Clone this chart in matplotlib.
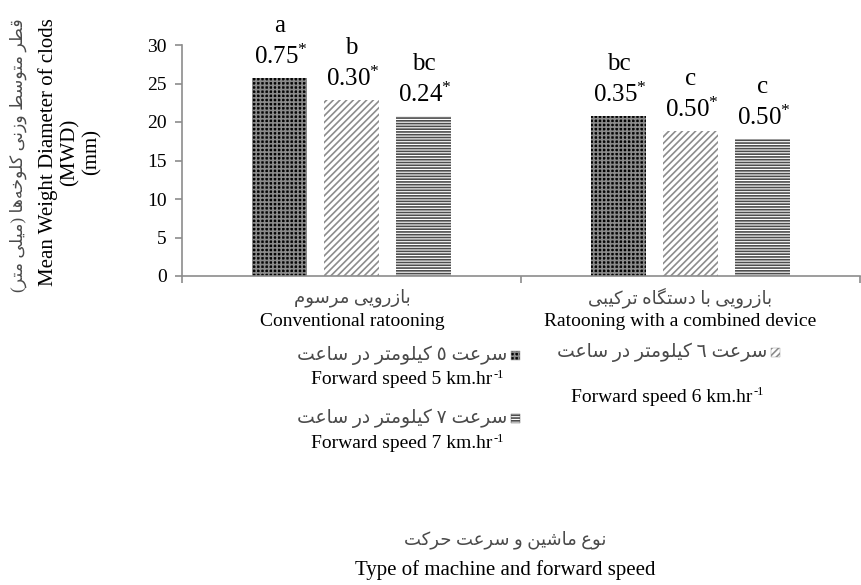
import numpy as np
import matplotlib
matplotlib.use("Agg")
import matplotlib.pyplot as plt
from matplotlib.patches import Rectangle

# --- data ---
CATEGORIES_FA = ["بازرویی مرسوم", "بازرویی با دستگاه ترکیبی"]
CATEGORIES_EN = ["Conventional ratooning", "Ratooning with a combined device"]
SERIES_FA = ["سرعت \u0665 کیلومتر در ساعت",
             "سرعت \u0666 کیلومتر در ساعت",
             "سرعت \u0667 کیلومتر در ساعت"]
SERIES_EN = ["Forward speed 5 km.hr", "Forward speed 6 km.hr", "Forward speed 7 km.hr"]
MWD_5 = [25.7, 20.8]
MWD_6 = [22.9, 18.8]
MWD_7 = [20.8, 17.8]
LETTERS_5 = ["a", "bc"]
LETTERS_6 = ["b", "c"]
LETTERS_7 = ["bc", "c"]
COEF_5 = ["0.75", "0.35"]
COEF_6 = ["0.30", "0.50"]
COEF_7 = ["0.24", "0.50"]
Y_LABEL_FA = "قطر متوسط وزنی کلوخه\u200cها (میلی متر)"
Y_LABEL_EN = "Mean Weight Diameter of clods\n(MWD)\n(mm)"
X_TITLE_FA = "نوع ماشین و سرعت حرکت"
X_TITLE_EN = "Type of machine and forward speed"

# --- minimal persian shaping (matplotlib has no bidi / joining) ---
_F = {
    'ا': (0xFE8D, 0xFE8E), 'د': (0xFEA9, 0xFEAA), 'ر': (0xFEAD, 0xFEAE),
    'ز': (0xFEAF, 0xFEB0), 'و': (0xFEED, 0xFEEE),
    'ب': (0xFE8F, 0xFE90, 0xFE91, 0xFE92), 'ت': (0xFE95, 0xFE96, 0xFE97, 0xFE98),
    'ح': (0xFEA1, 0xFEA2, 0xFEA3, 0xFEA4), 'خ': (0xFEA5, 0xFEA6, 0xFEA7, 0xFEA8),
    'س': (0xFEB1, 0xFEB2, 0xFEB3, 0xFEB4), 'ش': (0xFEB5, 0xFEB6, 0xFEB7, 0xFEB8),
    'ط': (0xFEC1, 0xFEC2, 0xFEC3, 0xFEC4), 'ع': (0xFEC9, 0xFECA, 0xFECB, 0xFECC),
    'ق': (0xFED5, 0xFED6, 0xFED7, 0xFED8), 'ل': (0xFEDD, 0xFEDE, 0xFEDF, 0xFEE0),
    'م': (0xFEE1, 0xFEE2, 0xFEE3, 0xFEE4), 'ن': (0xFEE5, 0xFEE6, 0xFEE7, 0xFEE8),
    'ه': (0xFEE9, 0xFEEA, 0xFEEB, 0xFEEC), 'ی': (0xFBFC, 0xFBFD, 0xFBFE, 0xFBFF),
    'ک': (0xFB8E, 0xFB8F, 0xFB90, 0xFB91), 'گ': (0xFB92, 0xFB93, 0xFB94, 0xFB95),
}


def fa(text):
    text = text.replace('ي', 'ی').replace('ك', 'ک')
    out = []
    for i, c in enumerate(text):
        if c not in _F:
            out.append(c)
            continue
        prev = text[i - 1] if i > 0 else ''
        nxt = text[i + 1] if i + 1 < len(text) else ''
        forms = _F[c]
        p = prev in _F and len(_F[prev]) == 4
        n = len(forms) == 4 and nxt in _F
        if p and n:
            k = 3
        elif p:
            k = 1
        elif n:
            k = 2
        else:
            k = 0
        out.append(chr(forms[k]))
    s = ''.join(out).replace('\u200c', '')[::-1]
    return s.translate(str.maketrans('()', ')('))


plt.rcParams['font.family'] = ['Liberation Serif', 'DejaVu Sans']
plt.rcParams['mathtext.fontset'] = 'custom'
plt.rcParams['mathtext.rm'] = 'Liberation Serif'
plt.rcParams['mathtext.it'] = 'Liberation Serif:italic'
plt.rcParams['hatch.linewidth'] = 1.2

FA_COLOR = '#4a4a4a'
W, H = 861, 585
fig = plt.figure(figsize=(W / 100, H / 100), dpi=100)


def fx(px):
    return px / W


def fy(py):
    return 1 - py / H


ax = fig.add_axes([fx(182), fy(276), fx(860) - fx(182), fy(45) - fy(276)])

STYLES = [
    dict(facecolor='#050505', edgecolor='#8a8a8a', hatch='++++'),
    dict(facecolor='white', edgecolor='#8c8c8c', hatch='/////'),
    dict(facecolor='white', edgecolor='#4d4d4d', hatch='------'),
]
values = [MWD_5, MWD_6, MWD_7]
letters = [LETTERS_5, LETTERS_6, LETTERS_7]
coefs = [COEF_5, COEF_6, COEF_7]
offsets = [-0.212, 0.0, 0.212]
bw = 0.163
x = np.arange(len(CATEGORIES_EN))

for j in range(3):
    xs = x + offsets[j]
    ax.bar(xs, values[j], width=bw, linewidth=0, **STYLES[j])
    for xi, v, let, cf in zip(xs, values[j], letters[j], coefs[j]):
        ax.annotate(let, (xi, v), xytext=(0, 33), textcoords='offset points',
                    ha='center', va='baseline', fontsize=18)
        ax.annotate(cf + r'$^{*}$', (xi, v), xytext=(1, 10), textcoords='offset points',
                    ha='center', va='baseline', fontsize=18)

ax.set_xlim(-0.5, 1.5)
ax.set_ylim(0, 30)
ax.set_yticks(np.arange(0, 31, 5))
ax.set_xticks([-0.5, 0.5, 1.5])
ax.set_xticklabels([])
for s in ['top', 'right']:
    ax.spines[s].set_visible(False)
for s in ['left', 'bottom']:
    ax.spines[s].set_color('#8c8c8c')
    ax.spines[s].set_linewidth(1.2)
ax.tick_params(axis='both', direction='out', length=5, width=1.2, color='#8c8c8c',
               labelsize=14, pad=6)

# category labels
cat_x = [352, 680]
for cx, lfa, len_ in zip(cat_x, CATEGORIES_FA, CATEGORIES_EN):
    fig.text(fx(cx), fy(298), fa(lfa), ha='center', va='center', fontsize=13, color=FA_COLOR)
    fig.text(fx(cx), fy(322), len_, ha='center', va='center', fontsize=14)

# y label
fig.text(fx(18), fy(155), fa(Y_LABEL_FA), rotation=90, ha='center', va='center',
         fontsize=12.5, color=FA_COLOR)
fig.text(fx(70), fy(152), Y_LABEL_EN, rotation=90, ha='center', va='center',
         fontsize=15, multialignment='center', linespacing=1.2)

# legend
leg_pos = [(402, 355, 380), (662, 352, 397), (402, 418, 444)]
renderer = fig.canvas.get_renderer()
for j, (cx, yfa, yen) in enumerate(leg_pos):
    t = fig.text(fx(cx), fy(yfa), fa(SERIES_FA[j]), ha='center', va='center',
                 fontsize=13.5, color=FA_COLOR)
    te = fig.text(fx(cx), fy(yen), SERIES_EN[j], ha='center', va='center', fontsize=14)
    eb = te.get_window_extent(renderer)
    fig.text((eb.x1 + 1) / W, fy(yen) + 5 / H, '-1', ha='left', va='center', fontsize=9)
    bb = t.get_window_extent(renderer)
    icon = Rectangle(((bb.x1 + 4) / W, fy(yfa) - 5 / H), 9 / W, 9 / H,
                     transform=fig.transFigure, linewidth=0.3, **STYLES[j])
    fig.add_artist(icon)

# x title
fig.text(fx(505), fy(540), fa(X_TITLE_FA), ha='center', va='center', fontsize=13,
         color=FA_COLOR)
fig.text(fx(505), fy(570), X_TITLE_EN, ha='center', va='center', fontsize=15)

fig.savefig('out.png', dpi=100)
